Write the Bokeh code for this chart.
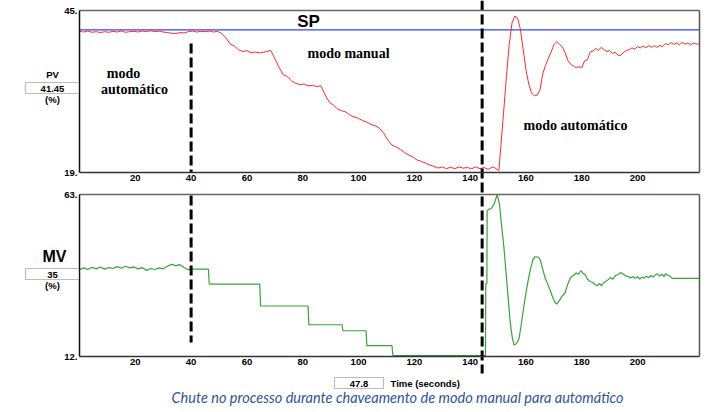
from bokeh.plotting import figure
from bokeh.models import (Range1d, LinearAxis, FixedTicker, Label, BoxAnnotation,
                          PrintfTickFormatter)
from bokeh.embed import file_html
from bokeh.resources import INLINE

# ---------------- data ----------------
T_START, T_END = 0, 222.2
PV_MIN, PV_MAX = 19, 45
MV_MIN, MV_MAX = 12, 63
X_TICKS = [20, 40, 60, 80, 100, 120, 140, 160, 180, 200]

SP_T = [0, 222.2]
SP_VALUES = [41.9, 41.9]

PV_T = [0, 1.5, 3, 4.5, 6, 7.5, 9, 10.5, 12, 13.5, 15, 16.5, 18, 19.5, 21, 22.5, 24, 25.5,
        27, 28.5, 30, 31.5, 33, 34.5, 36, 37.5, 39, 40.5, 42, 43.5, 45, 46.5, 48, 49.5,
        51, 52.5, 54, 55.5, 57, 58.5, 60, 61.5, 63, 64.5, 66, 67.5, 68.5, 70, 71.5, 73,
        74.5, 76, 77.5, 79, 80.5, 82, 83.5, 85, 86.5, 88, 89.5, 91, 92.5, 94, 95.5, 97,
        98.5, 100, 101.5, 103, 104.5, 106, 107.5, 109, 110.5, 112, 113.5, 115, 116.5, 118,
        119.5, 121, 122.5, 124, 125.5, 127, 128.5, 130, 131.5, 133, 134.5, 136, 137.5, 139,
        140.5, 142, 143.5, 145, 146.5, 148, 149, 150.3, 151, 152, 153, 154, 155, 156, 157,
        158, 159, 160, 161, 162, 163, 164, 165, 166, 167, 168, 169, 170, 171, 172, 173,
        174, 175, 176, 177, 178, 179, 180, 181, 182, 183, 184, 185, 186, 187, 188, 189,
        190, 191, 192, 193, 194, 195, 196, 197, 198, 199, 200, 201, 202, 203, 204, 205,
        206, 207, 208, 209, 210, 211, 212, 213, 214, 215, 216, 217, 218, 219, 220, 221, 222]
PV_VALUES = [41.65, 41.55, 41.7, 41.5, 41.6, 41.45, 41.6, 41.5, 41.65, 41.55, 41.7, 41.5,
             41.6, 41.65, 41.55, 41.7, 41.6, 41.75, 41.6, 41.7, 41.55, 41.45, 41.35, 41.3,
             41.45, 41.4, 41.6, 41.7, 41.55, 41.65, 41.6, 41.7, 41.55, 41.65,
             41.3, 40.6, 39.6, 39.3, 38.7, 38.4, 38.55, 38.2, 38.35, 38.2, 38.3, 38.45, 38.6,
             37.3, 35.9, 34.7, 34.4, 33.7, 33.3, 33.1, 33.2, 32.9, 33.0, 32.8, 32.9, 31.5,
             30.3, 29.8, 29.2, 28.9, 28.7, 28.2, 27.9, 27.7, 27.3, 27.1, 26.7, 26.5, 26.1,
             25.3, 24.2, 23.4, 23.1, 22.7, 22.2, 21.8, 21.5, 21.0, 20.8, 20.5, 20.2, 20.0,
             19.7, 19.9, 19.6, 19.85, 19.6, 19.9, 19.7, 19.8, 19.6, 19.9, 19.6, 19.8, 19.5,
             19.9, 19.7, 19.3, 23.2, 28.7, 34.4, 39.5, 43.0, 44.1, 43.8, 42.0, 38.8, 35.5,
             33.2, 31.8, 31.3, 31.4, 32.2, 34.8, 36.2, 37.3, 38.3, 39.5, 40.0, 39.6, 39.2,
             38.3, 37.0, 36.4, 36.1, 35.8, 36.0, 35.8, 36.9, 37.1, 38.3, 38.5, 38.9, 38.6,
             39.1, 38.7, 38.4, 38.6, 38.1, 38.3, 37.8, 37.8, 38.3, 38.6, 38.7, 39.0, 38.8,
             39.2, 39.0, 39.3, 39.0, 39.4, 39.1, 39.35, 39.1, 39.4, 39.2, 39.7, 39.5, 39.85,
             39.55, 39.8, 39.5, 39.9, 39.6, 39.75, 39.5, 39.8, 39.6, 39.65]

MV_T = [0, 1.5, 3, 4.5, 6, 7.5, 9, 10.5, 12, 13.5, 15, 16.5, 18, 19.5, 21, 22.5, 24, 25.5,
        27, 28.5, 30, 31.5, 33, 34.5, 36, 37.5, 39, 40, 40.5, 46.2, 46.5, 64.6, 64.9,
        81.9, 82.2, 94.1, 94.4, 102.7, 103.0, 112.0, 112.3, 145.5, 145.6, 146.0, 146.1,
        146.6, 147.6, 148.7, 149.7, 150.5, 151.3, 152.1, 153.2, 154.3, 155.0, 155.7, 156.5,
        157.5, 158.3, 159.2, 160.1, 161.0, 161.8, 162.6, 163.3, 164.0, 164.7, 165.2, 166.1,
        167.0, 168.2, 169.4, 170.2, 171.0, 172.0, 173.0, 174.0, 175.0, 176.0, 177.0, 178.0,
        178.8, 179.7, 180.5, 181.2, 182.0, 183.0, 184.0, 184.8, 185.6, 186.4, 187.1, 187.9,
        188.7, 189.5, 190.3, 191.1, 192.0, 193.0, 193.9, 194.8, 195.7, 196.6, 197.5, 198.3,
        199.2, 200.0, 200.8, 201.6, 202.3, 203.1, 204.0, 204.8, 205.6, 206.4, 207.1, 207.9,
        208.7, 209.5, 210.2, 210.7, 211.5, 212.4, 222.2]
MV_VALUES = [39.3, 39.9, 39.4, 40.1, 39.6, 40.2, 39.5, 40.0, 39.7, 40.3, 39.8, 40.4, 39.9,
             40.2, 39.6, 40.0, 39.1, 39.7, 39.4, 39.9, 39.6, 40.4, 41.0, 40.6, 40.9, 40.0,
             39.3, 39.6, 39.5, 39.5, 34.8, 34.8, 27.9, 27.9, 22.0, 22.0, 20.1, 20.1, 15.4,
             15.4, 12.3, 12.3, 34.9, 35.0, 58.0, 58.3, 58.6, 60.2, 63.0, 60.0, 53.0, 46.4,
             35.0, 23.3, 18.5, 15.6, 16.0, 17.5, 22.0, 27.5, 32.5, 36.9, 40.2, 42.7, 43.4,
             43.4, 43.0, 42.2, 39.2, 36.4, 34.0, 31.1, 29.3, 28.5, 29.6, 31.1, 32.0, 34.8,
             36.9, 37.5, 38.3, 37.9, 39.0, 38.1, 37.8, 36.4, 35.6, 35.3, 34.6, 34.3, 35.0,
             34.2, 35.3, 35.7, 36.2, 36.9, 36.3, 37.4, 37.8, 38.4, 38.0, 37.4, 37.2, 36.7,
             37.2, 36.6, 37.1, 36.4, 37.0, 36.6, 37.3, 36.8, 37.5, 37.0, 37.8, 38.0, 37.3,
             37.9, 37.2, 38.1, 37.5, 37.4, 36.6, 36.6]

MODE_SWITCH_T = [40, 144.3]
PV_READOUT = "41.45"
MV_READOUT = "35"
TIME_READOUT = "47.8"
CAPTION = "Chute no processo durante chaveamento de modo manual para automático"

# ---------------- layout (pixels) ----------------
W, H = 723, 412
BOX_L, BOX_R = 79, 699
TOP_Y0, TOP_Y1 = 10, 172
BOT_Y0, BOT_Y1 = 194, 356

sx = (T_END - T_START) / (BOX_R - BOX_L)
x_start = T_START - BOX_L * sx
x_end = T_END + (W - BOX_R) * sx
pv_px = (PV_MAX - PV_MIN) / (TOP_Y1 - TOP_Y0)
pv_end = PV_MAX + TOP_Y0 * pv_px
pv_start = PV_MIN - (H - TOP_Y1) * pv_px
mv_px = (MV_MAX - MV_MIN) / (BOT_Y1 - BOT_Y0)
mv_end = MV_MAX + BOT_Y0 * mv_px
mv_start = MV_MIN - (H - BOT_Y1) * mv_px


def X(px):
    return x_start + px * sx


def PVY(py):
    return pv_end - py * pv_px


def MVY(py):
    return mv_end - py * mv_px


p = figure(width=W, height=H, x_range=Range1d(x_start, x_end),
           y_range=Range1d(pv_start, pv_end), min_border=0,
           toolbar_location=None, output_backend="svg",
           x_axis_location=None, y_axis_location=None)
p.extra_y_ranges = {"mv": Range1d(mv_start, mv_end)}
p.xgrid.grid_line_color = None
p.ygrid.grid_line_color = None
p.outline_line_color = None
p.background_fill_color = "white"
p.border_fill_color = "white"

TICK_FONT = "Liberation Sans"


def axis(side, loc, bounds, ticks, rng=None, color="#333333"):
    kw = {}
    if rng is not None:
        kw["y_range_name"] = rng
    a = LinearAxis(fixed_location=loc, bounds=bounds, ticker=FixedTicker(ticks=ticks),
                   axis_line_color=color, axis_line_width=1.5,
                   major_tick_line_color=None, minor_tick_line_color=None,
                   major_tick_in=0, major_tick_out=0, major_label_standoff=2,
                   major_label_text_font=TICK_FONT, major_label_text_font_style="bold",
                   major_label_text_font_size="9.5px", major_label_text_color="black", **kw)
    p.add_layout(a, side)
    return a


# top (PV) box
axis("below", PV_MIN, (T_START, T_END), X_TICKS)
ay = axis("left", T_START, (PV_MIN, PV_MAX), [PV_MIN, PV_MAX], color="#111111")
ay.formatter = PrintfTickFormatter(format="%d.")
axis("above", PV_MAX, (T_START, T_END), [], color="#666666")
axis("right", T_END, (PV_MIN, PV_MAX), [], color="#555555")

# bottom (MV) box
axis("below", MV_MIN, (T_START, T_END), X_TICKS, rng="mv")
by = axis("left", T_START, (MV_MIN, MV_MAX), [MV_MIN, MV_MAX], rng="mv", color="#111111")
by.formatter = PrintfTickFormatter(format="%d.")
axis("above", MV_MAX, (T_START, T_END), [], rng="mv", color="#666666")
axis("right", T_END, (MV_MIN, MV_MAX), [], rng="mv", color="#555555")

# series
p.line(SP_T, SP_VALUES, line_color="#3344ee", line_width=1.2)
p.line(PV_T, PV_VALUES, line_color="#ff2a2a", line_width=1)
p.line(MV_T, MV_VALUES, line_color="#3aa23a", line_width=1.2, y_range_name="mv")

# mode switch markers
dash = dict(line_color="black", line_width=3, line_dash="10 4")
p.segment(x0=[MODE_SWITCH_T[0]], y0=[PVY(43)], x1=[MODE_SWITCH_T[0]], y1=[PV_MIN], **dash)
p.segment(x0=[MODE_SWITCH_T[0]], y0=[MVY(195)], x1=[MODE_SWITCH_T[0]], y1=[MVY(342)],
          y_range_name="mv", **dash)
p.segment(x0=[MODE_SWITCH_T[1]], y0=[MVY(0)], x1=[MODE_SWITCH_T[1]], y1=[MVY(373)],
          y_range_name="mv", **dash)

# readout boxes
box = dict(fill_color="white", fill_alpha=1, line_color="#222222", line_width=1.2)
p.add_layout(BoxAnnotation(left=X(25), right=X(78.5), top=PVY(82), bottom=PVY(93), **box))
p.add_layout(BoxAnnotation(left=X(25), right=X(78.5), top=MVY(268), bottom=MVY(279),
                           y_range_name="mv", **box))
p.add_layout(BoxAnnotation(left=X(334), right=X(383), top=MVY(377), bottom=MVY(388),
                           y_range_name="mv", **box))


def lab(text, px, py, rng=None, font=TICK_FONT, size="9.5px", style="bold",
        color="black", align="center"):
    yy = MVY(py) if rng == "mv" else PVY(py)
    kw = {"y_range_name": rng} if rng else {}
    p.add_layout(Label(x=X(px), y=yy, text=text, text_font=font, text_font_size=size,
                       text_font_style=style, text_color=color, text_align=align,
                       text_baseline="middle", **kw))


lab("PV", 52, 74)
lab(PV_READOUT, 52, 88)
lab("(%)", 52, 98.5)
lab("MV", 54, 256, rng="mv", size="16px")
lab(MV_READOUT, 52, 274, rng="mv")
lab("(%)", 52, 284.5, rng="mv")
lab(TIME_READOUT, 358.5, 383, rng="mv")
lab("Time (seconds)", 390, 383, rng="mv", align="left")
lab("SP", 308, 21, size="17px")

SERIF = "Liberation Serif"
lab("modo manual", 348, 53, font=SERIF, size="14px")
lab("modo", 123, 73, font=SERIF, size="14px")
lab("automático", 134, 89, font=SERIF, size="14px")
lab("modo automático", 575, 125, font=SERIF, size="14px")

lab(CAPTION, 397, 397, rng="mv", font="Lato", size="14.5px", style="italic", color="#2f5597")

open("out.html", "w").write(file_html(p, INLINE))
